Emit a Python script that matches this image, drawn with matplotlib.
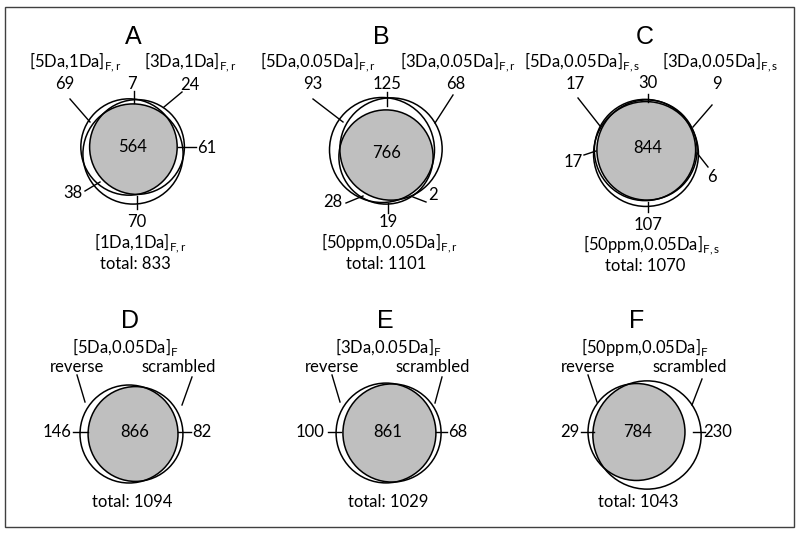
import numpy as np
import matplotlib
matplotlib.use("Agg")
import matplotlib.pyplot as plt
from matplotlib.patches import Circle, Polygon, Rectangle

plt.rcParams['font.family'] = ['Lato', 'DejaVu Sans']
plt.rcParams['mathtext.fontset'] = 'custom'
plt.rcParams['mathtext.rm'] = 'Lato'

# ---- data ----
titles = ['A', 'B', 'C', 'D', 'E', 'F']
totals = [833, 1101, 1070, 1094, 1029, 1043]

# three-set panels; region order:
# left only, left&right, right only, right&bottom, bottom only, left&bottom, all three
counts_A = [69, 7, 24, 61, 70, 38, 564]
counts_B = [93, 125, 68, 2, 19, 28, 766]
counts_C = [17, 30, 9, 6, 107, 17, 844]
names_A = ['[5Da,1Da]', '[3Da,1Da]', '[1Da,1Da]']
names_B = ['[5Da,0.05Da]', '[3Da,0.05Da]', '[50ppm,0.05Da]']
names_C = ['[5Da,0.05Da]', '[3Da,0.05Da]', '[50ppm,0.05Da]']
subs_ABC = ['F,r', 'F,r', 'F,s']

# two-set panels; region order: reverse only, scrambled only, both
counts_D = [146, 82, 866]
counts_E = [100, 68, 861]
counts_F = [29, 230, 784]
names_DEF = ['[5Da,0.05Da]', '[3Da,0.05Da]', '[50ppm,0.05Da]']
two_names = ['reverse', 'scrambled']

# ---- layout (pixel coordinates) ----
GRAY = '#bfbfbf'
FS = 12
three_layout = [
    dict(c=(133, 150), off=[(-4, -3), (4, -3), (0, 4)], k=1.85, title=(133, 37),
         names=[(75, 62), (190, 62), (140, 243)], total=(135, 264),
         txt=[(65, 84), (132, 84), (190, 85), (207, 148), (137, 222), (73, 193), (133, 147)],
         lines=[((70, 99), (90, 122)), ((134, 91), (134, 103)), ((182, 92), (164, 107)),
                ((178, 147), (196, 147)), ((137, 196), (137, 209)), ((85, 191), (100, 182))]),
    dict(c=(386, 155), off=[(-4, -5), (5, -6), (0, 2)], k=1.65, title=(381, 37),
         names=[(318, 62), (458, 62), (390, 243)], total=(386, 264),
         txt=[(313, 84), (387, 84), (456, 84), (433, 195), (388, 222), (333, 202), (387, 153)],
         lines=[((313, 99), (343, 122)), ((387, 92), (387, 106)), ((453, 95), (435, 123)),
                ((426, 202), (413, 197)), ((388, 203), (388, 213)), ((346, 203), (363, 196))]),
    dict(c=(646, 151), off=[(-1, -1), (1, -1), (0, 3)], k=1.68, title=(645, 37),
         names=[(582, 62), (720, 62), (652, 245)], total=(645, 266),
         txt=[(575, 84), (648, 83), (717, 84), (712, 177), (648, 225), (573, 162), (648, 148)],
         lines=[((578, 98), (600, 126)), ((648, 94), (648, 102)), ((712, 105), (693, 127)),
                ((708, 167), (697, 153)), ((648, 202), (648, 212)), ((584, 155), (596, 151))]),
]
two_layout = [
    dict(cen=[(129, 434), (135.5, 434)], k=1.54, title=(130, 321), name=(125, 347),
         words=[(77, 367), (179, 367)], total=(132, 502),
         txt=[(57, 432), (202, 432), (135, 432)],
         lines=[((77, 375), (85, 402)), ((192, 377), (182, 405)),
                ((73, 432), (88, 432)), ((178, 432), (191, 432))]),
    dict(cen=[(386, 433), (392, 433)], k=1.61, title=(385, 321), name=(388, 347),
         words=[(332, 367), (433, 367)], total=(388, 502),
         txt=[(310, 432), (458, 432), (388, 432)],
         lines=[((332, 375), (340, 402)), ((442, 377), (435, 403)),
                ((328, 432), (341, 432)), ((436, 432), (447, 432))]),
    dict(cen=[(636.5, 432), (647, 435)], k=1.70, title=(637, 321), name=(645, 347),
         words=[(588, 367), (690, 367)], total=(638, 502),
         txt=[(570, 432), (718, 432), (638, 432)],
         lines=[((588, 375), (597, 402)), ((702, 379), (692, 405)),
                ((581, 432), (594, 432)), ((693, 432), (705, 432))]),
]


def intersection(centers, radii, n=720):
    t = np.linspace(0, 2 * np.pi, n, endpoint=False)
    pts = []
    for (cx, cy), r in zip(centers, radii):
        p = np.column_stack([cx + r * np.cos(t), cy + r * np.sin(t)])
        ok = np.ones(n, bool)
        for (cx2, cy2), r2 in zip(centers, radii):
            ok &= np.hypot(p[:, 0] - cx2, p[:, 1] - cy2) <= r2 + 1e-6
        pts.append(p[ok])
    pts = np.vstack(pts)
    m = pts.mean(axis=0)
    return pts[np.argsort(np.arctan2(pts[:, 1] - m[1], pts[:, 0] - m[0]))]


def draw_sets(ax, centers, radii):
    ax.add_patch(Polygon(intersection(centers, radii), closed=True, fc=GRAY, ec='none', zorder=1))
    for c, r in zip(centers, radii):
        ax.add_patch(Circle(c, r, fill=False, ec='black', lw=1.1, zorder=2))


fig = plt.figure(figsize=(8, 5.33), dpi=100)
ax = fig.add_axes([0, 0, 1, 1])
ax.set_xlim(0, 800)
ax.set_ylim(533, 0)
ax.axis('off')
ax.add_patch(Rectangle((5, 7), 789, 520, fill=False, ec='#404040', lw=1.0))

title_kw = dict(ha='center', va='center', fontsize=18, family='Liberation Sans')
txt_kw = dict(ha='center', va='center', fontsize=FS)

# three-set panels
three_counts = [counts_A, counts_B, counts_C]
three_names = [names_A, names_B, names_C]
for i, (cnt, names, lay) in enumerate(zip(three_counts, three_names, three_layout)):
    a, ab, b, bc, c, ac, abc = cnt
    sizes = [a + ab + ac + abc, b + ab + bc + abc, c + ac + bc + abc]
    cx, cy = lay['c']
    centers = [(cx + dx, cy + dy) for dx, dy in lay['off']]
    radii = [lay['k'] * np.sqrt(s) for s in sizes]
    draw_sets(ax, centers, radii)
    for (p0, p1) in lay['lines']:
        ax.plot([p0[0], p1[0]], [p0[1], p1[1]], color='black', lw=1.0, zorder=3)
    for v, (x, y) in zip(cnt, lay['txt']):
        ax.text(x, y, str(v), zorder=4, **txt_kw)
    for nm, (x, y) in zip(names, lay['names']):
        ax.text(x, y, nm + r'$_{\mathregular{%s}}$' % subs_ABC[i], **txt_kw)
    ax.text(*lay['title'], titles[i], **title_kw)
    ax.text(*lay['total'], 'total: %d' % totals[i], **txt_kw)

# two-set panels
two_counts = [counts_D, counts_E, counts_F]
for j, (cnt, nm, lay) in enumerate(zip(two_counts, names_DEF, two_layout)):
    only_r, only_s, both = cnt
    sizes = [only_r + both, only_s + both]
    radii = [lay['k'] * np.sqrt(s) for s in sizes]
    draw_sets(ax, lay['cen'], radii)
    for (p0, p1) in lay['lines']:
        ax.plot([p0[0], p1[0]], [p0[1], p1[1]], color='black', lw=1.0, zorder=3)
    for v, (x, y) in zip(cnt, lay['txt']):
        ax.text(x, y, str(v), zorder=4, **txt_kw)
    for w, (x, y) in zip(two_names, lay['words']):
        ax.text(x, y, w, **txt_kw)
    ax.text(*lay['name'], nm + r'$_{\mathregular{F}}$', **txt_kw)
    ax.text(*lay['title'], titles[3 + j], **title_kw)
    ax.text(*lay['total'], 'total: %d' % totals[3 + j], **txt_kw)

fig.savefig('out.png', dpi=100)
